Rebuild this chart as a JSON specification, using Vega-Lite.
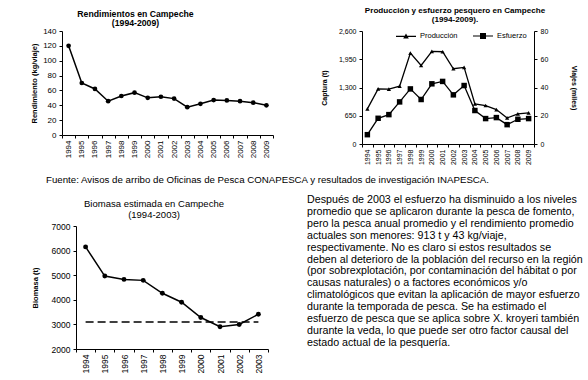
{
  "$schema": "https://vega.github.io/schema/vega-lite/v6.json",
  "background": "white",
  "padding": {"left": 30, "top": 6, "right": 0, "bottom": 0},
  "config": {
    "font": "Liberation Sans",
    "view": {"stroke": null},
    "axis": {"grid": false, "domainColor": "black", "tickColor": "black", "labelColor": "black", "titleColor": "black", "labelFont": "Liberation Sans", "titleFont": "Liberation Sans", "tickSize": 3, "domainWidth": 1, "tickWidth": 1},
    "title": {"color": "black", "font": "Liberation Sans", "anchor": "middle", "frame": "group"},
    "legend": {"labelFont": "Liberation Sans", "labelColor": "black"}
  },
  "datasets": {
    "rendimiento": [
      {"anio": 1994, "rendimiento": 120}, {"anio": 1995, "rendimiento": 70}, {"anio": 1996, "rendimiento": 62},
      {"anio": 1997, "rendimiento": 45.5}, {"anio": 1998, "rendimiento": 52.5}, {"anio": 1999, "rendimiento": 57},
      {"anio": 2000, "rendimiento": 50}, {"anio": 2001, "rendimiento": 51.5}, {"anio": 2002, "rendimiento": 49},
      {"anio": 2003, "rendimiento": 37.5}, {"anio": 2004, "rendimiento": 42}, {"anio": 2005, "rendimiento": 47},
      {"anio": 2006, "rendimiento": 46.5}, {"anio": 2007, "rendimiento": 45.5}, {"anio": 2008, "rendimiento": 43.5},
      {"anio": 2009, "rendimiento": 40}
    ],
    "produccion": [
      {"anio": 1994, "serie": "Producción", "valor": 808}, {"anio": 1995, "serie": "Producción", "valor": 1269},
      {"anio": 1996, "serie": "Producción", "valor": 1262}, {"anio": 1997, "serie": "Producción", "valor": 1331},
      {"anio": 1998, "serie": "Producción", "valor": 2092}, {"anio": 1999, "serie": "Producción", "valor": 1808},
      {"anio": 2000, "serie": "Producción", "valor": 2131}, {"anio": 2001, "serie": "Producción", "valor": 2123},
      {"anio": 2002, "serie": "Producción", "valor": 1731}, {"anio": 2003, "serie": "Producción", "valor": 1762},
      {"anio": 2004, "serie": "Producción", "valor": 923}, {"anio": 2005, "serie": "Producción", "valor": 885},
      {"anio": 2006, "serie": "Producción", "valor": 792}, {"anio": 2007, "serie": "Producción", "valor": 600},
      {"anio": 2008, "serie": "Producción", "valor": 692}, {"anio": 2009, "serie": "Producción", "valor": 715},
      {"anio": 1994, "serie": "Esfuerzo", "valor": 6.6}, {"anio": 1995, "serie": "Esfuerzo", "valor": 18.2},
      {"anio": 1996, "serie": "Esfuerzo", "valor": 20.8}, {"anio": 1997, "serie": "Esfuerzo", "valor": 29.8},
      {"anio": 1998, "serie": "Esfuerzo", "valor": 39}, {"anio": 1999, "serie": "Esfuerzo", "valor": 31.5},
      {"anio": 2000, "serie": "Esfuerzo", "valor": 42.6}, {"anio": 2001, "serie": "Esfuerzo", "valor": 44.3},
      {"anio": 2002, "serie": "Esfuerzo", "valor": 34.8}, {"anio": 2003, "serie": "Esfuerzo", "valor": 41.4},
      {"anio": 2004, "serie": "Esfuerzo", "valor": 23.7}, {"anio": 2005, "serie": "Esfuerzo", "valor": 18},
      {"anio": 2006, "serie": "Esfuerzo", "valor": 18.7}, {"anio": 2007, "serie": "Esfuerzo", "valor": 13.7},
      {"anio": 2008, "serie": "Esfuerzo", "valor": 17.5}, {"anio": 2009, "serie": "Esfuerzo", "valor": 18}
    ],
    "biomasa": [
      {"anio": 1994, "biomasa": 6150}, {"anio": 1995, "biomasa": 4965}, {"anio": 1996, "biomasa": 4830},
      {"anio": 1997, "biomasa": 4790}, {"anio": 1998, "biomasa": 4265}, {"anio": 1999, "biomasa": 3900},
      {"anio": 2000, "biomasa": 3280}, {"anio": 2001, "biomasa": 2905}, {"anio": 2002, "biomasa": 2995},
      {"anio": 2003, "biomasa": 3415}
    ],
    "referencia": [
      {"anio": 1994, "biomasa": 3100}, {"anio": 2003, "biomasa": 3100}
    ],
    "fuente": [
      {"texto": "Fuente: Avisos de arribo de Oficinas de Pesca CONAPESCA y resultados de investigación INAPESCA."}
    ],
    "parrafo": [
      {"texto": "Después de 2003 el esfuerzo ha disminuido a los niveles\npromedio que se aplicaron durante la pesca de fomento,\npero la pesca anual promedio y el rendimiento promedio\nactuales son menores: 913 t y 43 kg/viaje,\nrespectivamente. No es claro si estos resultados se\ndeben al deterioro de la población del recurso en la región\n(por sobrexplotación, por contaminación del hábitat o por\ncausas naturales) o a factores económicos y/o\nclimatológicos que evitan la aplicación de mayor esfuerzo\ndurante la temporada de pesca. Se ha estimado el\nesfuerzo de pesca que se aplica sobre X. kroyeri también\ndurante la veda, lo que puede ser otro factor causal del\nestado actual de la pesquería."}
    ],
    "vacio": []
  },
  "spacing": 9,
  "resolve": {"scale": {"shape": "independent"}, "legend": {"shape": "independent"}},
  "vconcat": [
    {
      "spacing": 89,
      "bounds": "flush",
      "resolve": {"scale": {"shape": "independent"}, "legend": {"shape": "independent"}},
      "hconcat": [
        {
          "width": 211,
          "height": 104,
          "title": {"text": ["Rendimientos en Campeche", "(1994-2009)"], "fontSize": 8.7, "fontWeight": "bold", "lineHeight": 9.5, "dx": -32, "offset": -1},
          "data": {"name": "rendimiento"},
          "layer": [
            {"mark": {"type": "line", "color": "black", "strokeWidth": 1.5}},
            {"mark": {"type": "point", "filled": true, "color": "black", "opacity": 1, "size": 22}}
          ],
          "encoding": {
            "x": {"field": "anio", "type": "ordinal", "scale": {"type": "band", "paddingInner": 0, "paddingOuter": 0},
                  "axis": {"title": null, "labelAngle": -90, "labelFontSize": 8, "tickBand": "extent", "labelPadding": 2}},
            "y": {"field": "rendimiento", "type": "quantitative", "scale": {"domain": [0, 140]},
                  "axis": {"title": "Rendimiento (kg/viaje)", "values": [0, 20, 40, 60, 80, 100, 120, 140], "labelFontSize": 8, "titleFontSize": 7.5, "titleFontWeight": "bold", "titlePadding": 4, "labelPadding": 3}}
          }
        },
        {
          "width": 172,
          "height": 113,
          "title": {"text": ["Producción y esfuerzo pesquero en Campeche", "(1994-2009)."], "fontSize": 8.1, "fontWeight": "bold", "lineHeight": 9, "dx": 7, "offset": 1},
          "data": {"name": "produccion"},
          "encoding": {
            "x": {"field": "anio", "type": "ordinal", "scale": {"type": "band", "paddingInner": 0, "paddingOuter": 0},
                  "axis": {"title": null, "labelAngle": -90, "labelFontSize": 7, "tickBand": "extent", "labelPadding": 2}}
          },
          "layer": [
            {
              "transform": [{"filter": "datum.serie === 'Producción'"}],
              "encoding": {
                "y": {"field": "valor", "type": "quantitative", "scale": {"domain": [0, 2600]},
                      "axis": {"title": "Captura (t)", "values": [0, 650, 1300, 1950, 2600], "format": ",.0f", "labelFontSize": 7, "titleFontSize": 7, "titleFontWeight": "bold", "titlePadding": 11, "labelPadding": 3}}
              },
              "layer": [
                {"mark": {"type": "line", "color": "black", "strokeWidth": 1.3}},
                {"mark": {"type": "point", "filled": true, "color": "black", "opacity": 1, "size": 18, "shape": "triangle-up"}},
                {
                  "transform": [{"filter": "false"}],
                  "mark": {"type": "point", "filled": true, "color": "black", "opacity": 1, "size": 400},
                  "encoding": {"shape": {"field": "serie", "type": "nominal",
                    "scale": {"domain": ["Producción", "Esfuerzo"], "range": ["M-1,-0.06H1V0.06H-1ZM0,-0.28L0.28,0.22L-0.28,0.22Z", "M-1,-0.06H1V0.06H-1ZM-0.3,-0.3H0.3V0.3H-0.3Z"]},
                    "legend": {"orient": "none", "legendX": 33, "legendY": -6, "direction": "horizontal", "title": null, "symbolSize": 400, "symbolFillColor": "black", "labelFontSize": 7.5, "labelOffset": 3, "columnPadding": 12}}}
                }
              ]
            },
            {
              "transform": [{"filter": "datum.serie === 'Esfuerzo'"}],
              "encoding": {
                "y": {"field": "valor", "type": "quantitative", "scale": {"domain": [0, 80]},
                      "axis": {"orient": "right", "title": "Viajes (miles)", "values": [0, 20, 40, 60, 80], "labelFontSize": 7, "titleFontSize": 7, "titleFontWeight": "bold", "titlePadding": 23, "labelPadding": 3}}
              },
              "layer": [
                {"mark": {"type": "line", "color": "black", "strokeWidth": 1.3}},
                {"mark": {"type": "point", "filled": true, "color": "black", "opacity": 1, "size": 30, "shape": "square"}}
              ]
            }
          ],
          "resolve": {"scale": {"y": "independent"}}
        }
      ]
    },
    {
      "width": 411,
      "height": 1,
      "data": {"name": "fuente"},
      "mark": {"type": "text", "fontSize": 9.7, "baseline": "middle", "align": "center", "color": "black"},
      "encoding": {"text": {"field": "texto", "type": "nominal"}}
    },
    {
      "spacing": 13,
      "bounds": "flush",
      "hconcat": [
        {
          "width": 1,
          "height": 1,
          "data": {"name": "vacio"},
          "mark": {"type": "point", "opacity": 0},
          "encoding": {}
        },
        {
          "width": 192,
          "height": 123,
          "title": {"text": ["Biomasa estimada en Campeche", "(1994-2003)"], "fontSize": 9.5, "fontWeight": "normal", "lineHeight": 10.5, "dx": -18, "offset": 3},
          "encoding": {
            "x": {"field": "anio", "type": "ordinal", "scale": {"type": "band", "paddingInner": 0, "paddingOuter": 0},
                  "axis": {"title": null, "labelAngle": -90, "labelFontSize": 8.5, "tickBand": "extent", "labelPadding": 2}},
            "y": {"field": "biomasa", "type": "quantitative", "scale": {"domain": [2000, 7000]},
                  "axis": {"title": "Biomasa (t)", "values": [2000, 3000, 4000, 5000, 6000, 7000], "format": "d", "labelFontSize": 8.5, "titleFontSize": 7.5, "titleFontWeight": "bold", "titlePadding": 12, "labelPadding": 3}}
          },
          "layer": [
            {"data": {"name": "referencia"}, "mark": {"type": "line", "color": "black", "strokeWidth": 1.5, "strokeDash": [8, 4]}},
            {"data": {"name": "biomasa"}, "mark": {"type": "line", "color": "black", "strokeWidth": 1.5}},
            {"data": {"name": "biomasa"}, "mark": {"type": "point", "filled": true, "color": "black", "opacity": 1, "size": 24}}
          ]
        },
        {
          "width": 52,
          "height": 2,
          "data": {"name": "parrafo"},
          "mark": {"type": "text", "align": "left", "baseline": "middle", "fontSize": 10.7, "lineHeight": 11.9, "lineBreak": "\n", "color": "black", "dy": -27},
          "encoding": {"text": {"field": "texto", "type": "nominal"}}
        }
      ]
    }
  ]
}
